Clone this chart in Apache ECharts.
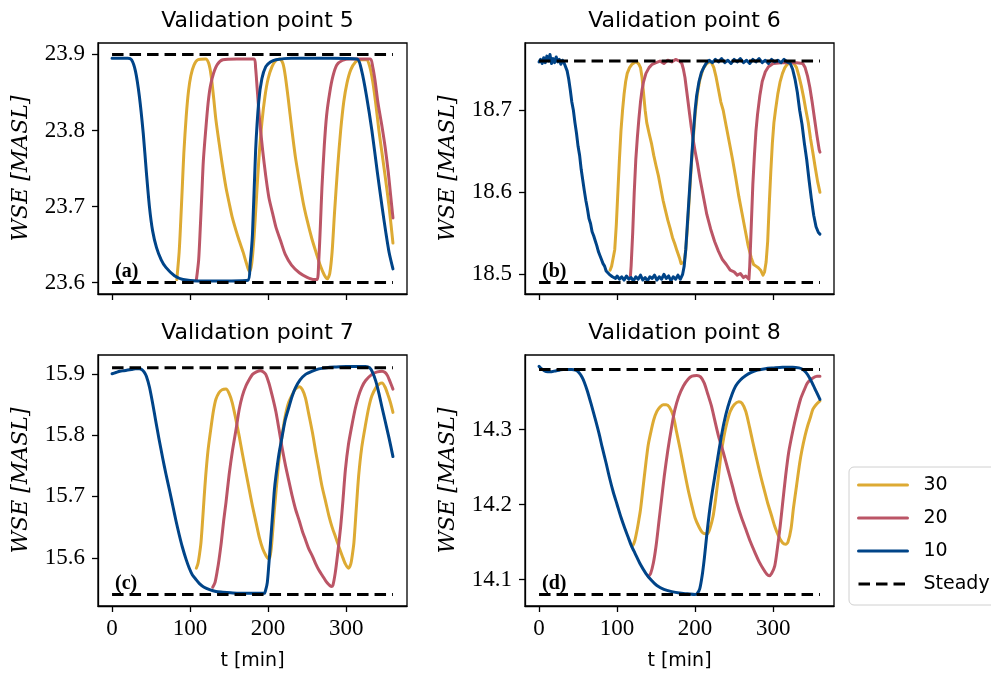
<!DOCTYPE html>
<html>
<head>
<meta charset="utf-8">
<script src="https://cdn.jsdelivr.net/npm/echarts@6/dist/echarts.min.js"></script>
<style>
  html, body { margin: 0; padding: 0; background: #fff; }
  #chart { width: 991px; height: 678px; }
</style>
</head>
<body>
<div id="chart"></div>
<script>
// ---- time axis ----
const tLimits = [-18, 378];
const tTicks = [0, 100, 200, 300];

// ---- Validation point 5 ----
const yLimits5 = [23.585, 23.915];
const yTicks5 = [23.6, 23.7, 23.8, 23.9];
const steady5 = [23.6, 23.9];
const vp5_30 = [[83,23.604],[86,23.64],[88,23.68],[90,23.725],[92,23.77],[95,23.818],[98,23.852],[101,23.872],[105,23.886],[110,23.893],[120,23.894],[124,23.888],[127,23.872],[130,23.845],[133,23.815],[137,23.785],[141,23.757],[146,23.725],[150,23.705],[154,23.686],[159,23.668],[163,23.655],[168,23.64],[172,23.626],[176,23.614],[179,23.625],[182,23.66],[185,23.71],[188,23.76],[192,23.81],[196,23.845],[200,23.868],[205,23.884],[210,23.892],[215,23.894],[219,23.888],[222,23.872],[226,23.84],[230,23.805],[235,23.765],[240,23.734],[245,23.705],[250,23.682],[256,23.658],[262,23.638],[267,23.622],[272,23.61],[276,23.605],[279,23.612],[282,23.64],[285,23.69],[289,23.75],[293,23.80],[297,23.838],[301,23.862],[306,23.88],[312,23.89],[318,23.893],[326,23.893],[330,23.885],[334,23.865],[338,23.835],[342,23.80],[346,23.77],[350,23.74],[355,23.70],[360,23.652]];
const vp5_20 = [[108,23.603],[111,23.63],[113,23.67],[115,23.715],[117,23.76],[120,23.80],[123,23.835],[126,23.858],[130,23.875],[135,23.887],[142,23.893],[160,23.894],[182,23.894],[184,23.882],[186,23.855],[189,23.815],[193,23.774],[197,23.74],[201,23.712],[206,23.69],[210,23.673],[216,23.655],[222,23.637],[230,23.623],[240,23.613],[250,23.607],[259,23.604],[263,23.604],[265,23.63],[267,23.675],[269,23.725],[272,23.78],[275,23.82],[279,23.85],[283,23.871],[288,23.886],[295,23.892],[305,23.894],[331,23.894],[334,23.884],[337,23.866],[341,23.835],[346,23.805],[350,23.778],[354,23.745],[357,23.715],[360,23.685]];
const vp5_10 = [[0,23.895],[10,23.895],[20,23.895],[25,23.893],[30,23.878],[35,23.845],[40,23.796],[44,23.745],[48,23.699],[52,23.668],[57,23.646],[63,23.630],[69,23.620],[80,23.609],[91,23.604],[110,23.602],[140,23.602],[174,23.603],[177,23.625],[180,23.664],[184,23.774],[188,23.838],[192,23.868],[197,23.884],[203,23.890],[210,23.893],[230,23.895],[280,23.895],[314,23.894],[320,23.878],[326,23.846],[333,23.80],[340,23.745],[346,23.70],[351,23.665],[355,23.64],[360,23.618]];

// ---- Validation point 6 ----
const yLimits6 = [18.476, 18.782];
const yTicks6 = [18.5, 18.6, 18.7];
const steady6 = [18.49, 18.76];
const vp6_30 = [[91,18.505],[93,18.51],[95,18.52],[97,18.53],[99,18.56],[101,18.60],[103,18.64],[105,18.675],[107,18.70],[109,18.72],[111,18.735],[113,18.745],[116,18.752],[119,18.756],[122,18.758],[125,18.759],[128,18.756],[130,18.752],[132,18.74],[134,18.72],[136,18.70],[138,18.685],[141,18.672],[144,18.66],[147,18.645],[150,18.632],[153,18.62],[156,18.605],[159,18.59],[162,18.578],[165,18.566],[168,18.556],[171,18.545],[174,18.537],[177,18.528],[180,18.52],[182,18.513],[184,18.512],[186,18.515],[188,18.53],[190,18.555],[192,18.585],[194,18.615],[196,18.645],[198,18.67],[200,18.695],[203,18.72],[206,18.737],[210,18.75],[214,18.756],[218,18.759],[221,18.758],[224,18.752],[227,18.74],[230,18.725],[233,18.71],[236,18.70],[240,18.68],[244,18.66],[248,18.64],[252,18.618],[256,18.595],[260,18.575],[264,18.555],[268,18.535],[272,18.52],[275,18.512],[278,18.51],[281,18.508],[284,18.505],[287,18.499],[289,18.503],[291,18.515],[293,18.54],[295,18.585],[297,18.625],[299,18.66],[301,18.685],[303,18.70],[306,18.72],[309,18.735],[312,18.745],[315,18.752],[318,18.756],[322,18.758],[326,18.758],[330,18.752],[333,18.742],[336,18.73],[339,18.716],[342,18.70],[345,18.685],[348,18.665],[351,18.648],[354,18.63],[357,18.613],[360,18.60]];
const vp6_20 = [[117,18.497],[118,18.51],[120,18.55],[122,18.60],[124,18.64],[126,18.667],[128,18.69],[130,18.71],[132,18.725],[134,18.735],[137,18.745],[141,18.752],[145,18.756],[150,18.758],[155,18.760],[160,18.757],[165,18.761],[170,18.759],[175,18.762],[180,18.760],[183,18.757],[185,18.75],[187,18.74],[189,18.725],[191,18.71],[193,18.695],[195,18.68],[197,18.667],[200,18.65],[203,18.635],[206,18.618],[210,18.598],[215,18.573],[220,18.555],[225,18.54],[230,18.528],[235,18.518],[240,18.512],[245,18.505],[250,18.503],[254,18.499],[258,18.501],[262,18.496],[265,18.498],[269,18.494],[270,18.51],[272,18.56],[274,18.61],[276,18.645],[278,18.675],[280,18.695],[283,18.718],[286,18.735],[290,18.747],[294,18.753],[300,18.757],[310,18.758],[320,18.758],[330,18.758],[338,18.757],[341,18.752],[344,18.742],[347,18.728],[350,18.71],[353,18.69],[356,18.67],[359,18.652],[360,18.649]];
const vp6_10 = [[0,18.759],[2,18.762],[4,18.757],[6,18.764],[8,18.758],[10,18.766],[12,18.760],[14,18.768],[16,18.757],[18,18.763],[20,18.758],[22,18.765],[24,18.759],[26,18.762],[28,18.756],[30,18.761],[32,18.758],[34,18.757],[36,18.748],[38,18.738],[40,18.725],[42,18.71],[44,18.70],[46,18.685],[48,18.672],[50,18.656],[52,18.645],[54,18.628],[56,18.615],[58,18.602],[60,18.59],[62,18.58],[64,18.568],[66,18.562],[68,18.552],[70,18.547],[72,18.541],[74,18.535],[76,18.528],[78,18.523],[80,18.518],[82,18.513],[84,18.510],[86,18.504],[88,18.505],[90,18.500],[92,18.502],[94,18.497],[96,18.499],[98,18.495],[100,18.498],[103,18.494],[106,18.497],[109,18.493],[112,18.498],[115,18.494],[118,18.496],[121,18.492],[124,18.497],[127,18.494],[130,18.499],[133,18.493],[136,18.496],[139,18.492],[142,18.497],[145,18.495],[148,18.499],[151,18.493],[154,18.497],[157,18.494],[160,18.500],[163,18.495],[166,18.498],[169,18.492],[172,18.497],[175,18.494],[178,18.499],[181,18.494],[184,18.500],[186,18.51],[188,18.53],[190,18.56],[192,18.59],[194,18.62],[196,18.648],[198,18.675],[200,18.70],[202,18.718],[205,18.735],[208,18.746],[211,18.752],[214,18.757],[218,18.761],[222,18.758],[226,18.762],[230,18.759],[234,18.763],[238,18.758],[242,18.761],[246,18.757],[250,18.762],[254,18.759],[258,18.763],[262,18.758],[266,18.761],[270,18.757],[274,18.762],[278,18.759],[282,18.763],[286,18.758],[290,18.761],[294,18.757],[298,18.762],[302,18.759],[306,18.761],[310,18.758],[314,18.762],[318,18.759],[322,18.757],[325,18.75],[328,18.738],[331,18.722],[334,18.70],[337,18.683],[340,18.66],[343,18.64],[346,18.615],[349,18.592],[352,18.572],[355,18.558],[358,18.551],[360,18.549]];

// ---- Validation point 7 ----
const yLimits7 = [15.5214, 15.9306];
const yTicks7 = [15.6, 15.7, 15.8, 15.9];
const steady7 = [15.54, 15.91];
const vp7_30 = [[108,15.583],[110,15.59],[112,15.605],[114,15.625],[116,15.66],[118,15.698],[120,15.733],[123,15.775],[127,15.814],[130,15.84],[133,15.858],[137,15.869],[141,15.874],[146,15.875],[150,15.868],[154,15.853],[158,15.83],[163,15.798],[167,15.77],[171.5,15.74],[176,15.71],[180,15.684],[185,15.655],[189,15.632],[193,15.615],[197,15.604],[200,15.599],[202,15.600],[204,15.615],[206,15.645],[208,15.678],[211,15.72],[214,15.76],[218,15.8],[222,15.831],[226,15.852],[231,15.866],[235,15.875],[240,15.879],[244,15.874],[248,15.86],[252,15.835],[257,15.803],[261,15.773],[265,15.745],[269,15.717],[274,15.69],[278,15.668],[282,15.65],[287,15.632],[291,15.617],[295,15.603],[299,15.59],[303,15.583],[306,15.59],[308,15.605],[310,15.625],[313,15.68],[316,15.733],[320,15.78],[325,15.818],[329,15.845],[333,15.864],[338,15.877],[343,15.884],[346,15.885],[350,15.878],[354,15.864],[357,15.852],[360,15.837]];
const vp7_20 = [[129,15.552],[132,15.56],[135,15.58],[137,15.596],[140,15.625],[143,15.66],[146,15.69],[150,15.735],[154.5,15.776],[159,15.81],[163,15.842],[167,15.864],[171.5,15.88],[176,15.891],[180,15.899],[185,15.903],[190,15.905],[194,15.903],[197,15.899],[201,15.885],[205.5,15.863],[210,15.838],[214,15.809],[218,15.779],[222.5,15.749],[227,15.723],[231,15.70],[235,15.68],[240,15.66],[244,15.643],[248,15.629],[252,15.615],[257,15.602],[261,15.59],[265,15.58],[270,15.57],[274,15.562],[278,15.556],[281,15.553],[283,15.555],[286,15.575],[289,15.605],[293,15.651],[296,15.695],[299,15.743],[303,15.785],[308,15.82],[312,15.845],[316,15.864],[320,15.878],[325,15.889],[333,15.899],[340,15.903],[346,15.904],[350,15.902],[353,15.897],[356,15.888],[360,15.875]];
const vp7_10 = [[0,15.900],[5,15.902],[10,15.904],[15,15.905],[20,15.906],[25,15.907],[30,15.908],[35,15.908],[38,15.907],[41,15.903],[44,15.896],[48,15.878],[52,15.852],[56,15.823],[60,15.795],[65,15.762],[69,15.737],[74,15.708],[78,15.684],[82,15.66],[86,15.638],[90,15.618],[95,15.597],[99,15.583],[103,15.572],[108,15.564],[112,15.558],[118,15.552],[125,15.548],[133,15.545],[142,15.544],[152,15.543],[163,15.542],[175,15.542],[185,15.542],[195,15.542],[197,15.548],[199,15.56],[201,15.59],[203,15.623],[206,15.675],[208,15.71],[210,15.733],[214,15.77],[218,15.798],[222,15.825],[227,15.847],[231,15.864],[235,15.877],[241,15.89],[248,15.899],[256,15.904],[265,15.908],[275,15.910],[285,15.911],[300,15.912],[315,15.912],[325,15.912],[330,15.91],[334,15.902],[338,15.888],[342,15.868],[346,15.845],[350,15.823],[355,15.795],[360,15.765]];

// ---- Validation point 8 ----
const yLimits8 = [14.0648, 14.3992];
const yTicks8 = [14.1, 14.2, 14.3];
const steady8 = [14.08, 14.38];
const vp8_30 = [[119,14.144],[121,14.147],[123,14.153],[126,14.168],[128,14.18],[130,14.193],[133,14.22],[137,14.256],[140,14.28],[144,14.30],[147,14.313],[151,14.324],[155,14.33],[159,14.333],[163,14.333],[167,14.33],[172,14.318],[176,14.298],[181,14.273],[186,14.246],[191,14.22],[196,14.198],[200,14.182],[205,14.17],[209,14.163],[213,14.161],[216,14.161],[219,14.168],[223,14.184],[226,14.205],[230,14.238],[233,14.265],[237,14.291],[241,14.31],[245,14.324],[250,14.333],[256,14.337],[260,14.335],[265,14.324],[270,14.302],[274,14.283],[279,14.26],[284,14.238],[289,14.218],[293,14.202],[298,14.185],[302,14.171],[307,14.158],[312,14.149],[316,14.147],[319,14.15],[323,14.168],[326,14.195],[330,14.225],[334,14.255],[337,14.273],[341,14.292],[344,14.304],[348,14.317],[351,14.327],[355,14.333],[360,14.338]];
const vp8_20 = [[140,14.104],[143,14.108],[146.5,14.122],[150,14.145],[153.5,14.176],[157,14.207],[160.5,14.238],[165,14.272],[170,14.304],[174,14.326],[179,14.344],[185,14.358],[191,14.367],[196,14.371],[202,14.372],[207,14.37],[211.6,14.362],[216,14.348],[221,14.331],[225,14.313],[230,14.291],[236,14.27],[242,14.247],[248,14.224],[253.5,14.202],[259,14.184],[265,14.167],[271,14.15],[276.7,14.136],[282,14.124],[288,14.113],[292,14.107],[295,14.105],[298,14.108],[302,14.118],[305,14.138],[309,14.171],[312,14.2],[316,14.238],[320,14.27],[325.6,14.30],[330,14.32],[335,14.34],[340,14.353],[344,14.362],[350,14.368],[356,14.371],[360,14.371]];
const vp8_10 = [[0,14.384],[3,14.381],[7,14.378],[11,14.377],[16,14.377],[21,14.378],[26,14.379],[31,14.38],[36,14.38],[42,14.38],[47,14.379],[51,14.376],[55,14.37],[58,14.363],[62,14.351],[67,14.333],[72,14.314],[77,14.294],[81,14.276],[86,14.255],[90,14.237],[95,14.217],[100,14.2],[105,14.183],[110,14.168],[114,14.157],[118,14.146],[123,14.135],[130,14.12],[137,14.108],[144,14.099],[151,14.092],[160,14.087],[170,14.084],[180,14.082],[190,14.081],[200,14.08],[203,14.082],[206,14.088],[209,14.105],[212,14.13],[215,14.16],[218,14.187],[221,14.21],[225,14.236],[229,14.262],[233,14.287],[237,14.309],[242,14.33],[247,14.346],[252,14.358],[258,14.366],[265,14.372],[272,14.376],[280,14.379],[290,14.381],[300,14.382],[312,14.383],[325,14.383],[333,14.382],[338,14.38],[342,14.376],[346,14.37],[350,14.362],[355,14.351],[360,14.34]];

// ---- legend / scenario names ----
const scenarioNames = ['30', '20', '10'];
const steadyName = 'Steady';
const panelTitles = ['Validation point 5', 'Validation point 6', 'Validation point 7', 'Validation point 8'];
const panelTags = ['(a)', '(b)', '(c)', '(d)'];
const xName = 't [min]';
const yName = 'WSE [MASL]';

// ---- styling ----
const COLORS = { '30': '#DDAA33', '20': '#BB5566', '10': '#004488' };
const LINE_W = 3;
const AXIS_W = 1.3;
const SANS = "'DejaVu Sans', sans-serif";
const SERIF = "'Liberation Serif', 'DejaVu Serif', serif";

const panels = [
  { series: [vp5_30, vp5_20, vp5_10], steady: steady5, yLim: yLimits5, yTicks: yTicks5, smooth: 0.25 },
  { series: [vp6_30, vp6_20, vp6_10], steady: steady6, yLim: yLimits6, yTicks: yTicks6, smooth: false },
  { series: [vp7_30, vp7_20, vp7_10], steady: steady7, yLim: yLimits7, yTicks: yTicks7, smooth: 0.25 },
  { series: [vp8_30, vp8_20, vp8_10], steady: steady8, yLim: yLimits8, yTicks: yTicks8, smooth: 0.25 }
];

// subplot boxes (pixels)
const boxW = 309, boxH = 251;
const boxLeft = [98, 525, 98, 525];
const boxTop = [43, 43, 355, 355];

const grids = [], xAxes = [], yAxes = [], series = [], titles = [];
const axisLineStyle = { color: '#000', width: AXIS_W };

panels.forEach((p, i) => {
  const bottomRow = i >= 2;
  grids.push({
    left: boxLeft[i], top: boxTop[i], width: boxW, height: boxH,
    show: true, borderColor: '#000', borderWidth: AXIS_W,
    backgroundColor: 'transparent', containLabel: false, outerBoundsMode: 'none'
  });
  xAxes.push({
    gridIndex: i, type: 'value', min: tLimits[0], max: tLimits[1],
    axisLine: { show: true, onZero: false, lineStyle: axisLineStyle },
    axisTick: { show: true, inside: false, length: 6, lineStyle: axisLineStyle, customValues: tTicks },
    axisLabel: {
      show: bottomRow, customValues: tTicks, margin: 11,
      fontFamily: SERIF, fontSize: 23, color: '#000',
      formatter: v => String(Math.round(v))
    },
    splitLine: { show: false },
    name: bottomRow ? xName : '', nameLocation: 'middle', nameGap: 46,
    nameTextStyle: { fontFamily: SANS, fontSize: 19, color: '#000' }
  });
  yAxes.push({
    gridIndex: i, type: 'value', min: p.yLim[0], max: p.yLim[1],
    axisLine: { show: true, onZero: false, lineStyle: axisLineStyle },
    axisTick: { show: true, inside: false, length: 6, lineStyle: axisLineStyle, customValues: p.yTicks },
    axisLabel: {
      customValues: p.yTicks, margin: 13,
      fontFamily: SERIF, fontSize: 23, color: '#000',
      formatter: v => v.toFixed(1)
    },
    splitLine: { show: false },
    name: yName, nameLocation: 'middle', nameGap: 66, nameRotate: 90,
    nameTextStyle: { fontFamily: "'DejaVu Serif', serif", fontStyle: 'italic', fontSize: 22, color: '#000' }
  });

  p.series.forEach((data, k) => {
    const name = scenarioNames[k];
    series.push({
      type: 'line', name, xAxisIndex: i, yAxisIndex: i, data,
      symbol: 'none', showSymbol: false, smooth: p.smooth,
      lineStyle: { color: COLORS[name], width: LINE_W, cap: 'round', join: 'round' },
      itemStyle: { color: COLORS[name] },
      emphasis: { disabled: true }, silent: true
    });
  });
  p.steady.forEach(level => {
    series.push({
      type: 'line', name: steadyName, xAxisIndex: i, yAxisIndex: i,
      data: [[0, level], [360, level]],
      symbol: 'none', showSymbol: false,
      lineStyle: { color: '#000', width: LINE_W, type: [11.5, 6], cap: 'butt' },
      itemStyle: { color: '#000' },
      emphasis: { disabled: true }, silent: true
    });
  });

  titles.push({
    text: panelTitles[i], left: boxLeft[i] + boxW / 2, top: boxTop[i] - 38, textAlign: 'center',
    textStyle: { fontFamily: SANS, fontSize: 22, fontWeight: 'normal', color: '#000' }
  });
  titles.push({
    text: panelTags[i], left: boxLeft[i] + 12, top: boxTop[i] + boxH - 37,
    textStyle: { fontFamily: SERIF, fontSize: 20, fontWeight: 'bold', color: '#000' }
  });
});

const chart = echarts.init(document.getElementById('chart'), null, { renderer: 'canvas' });
chart.setOption({
  animation: false,
  backgroundColor: '#fff',
  title: titles,
  grid: grids,
  xAxis: xAxes,
  yAxis: yAxes,
  legend: {
    orient: 'vertical', left: 849, top: 467,
    data: scenarioNames.concat([steadyName]),
    itemWidth: 49, itemHeight: 14, itemGap: 11,
    padding: [7, 12, 10, 8],
    borderColor: '#d0d0d0', borderWidth: 1, borderRadius: 5, backgroundColor: '#fff',
    selectedMode: false,
    itemStyle: { opacity: 0, borderWidth: 0 },
    lineStyle: { width: LINE_W },
    textStyle: { fontFamily: SANS, fontSize: 19, color: '#000', lineHeight: 22, padding: [0, 0, 0, 11] }
  },
  series
});
</script>
</body>
</html>
